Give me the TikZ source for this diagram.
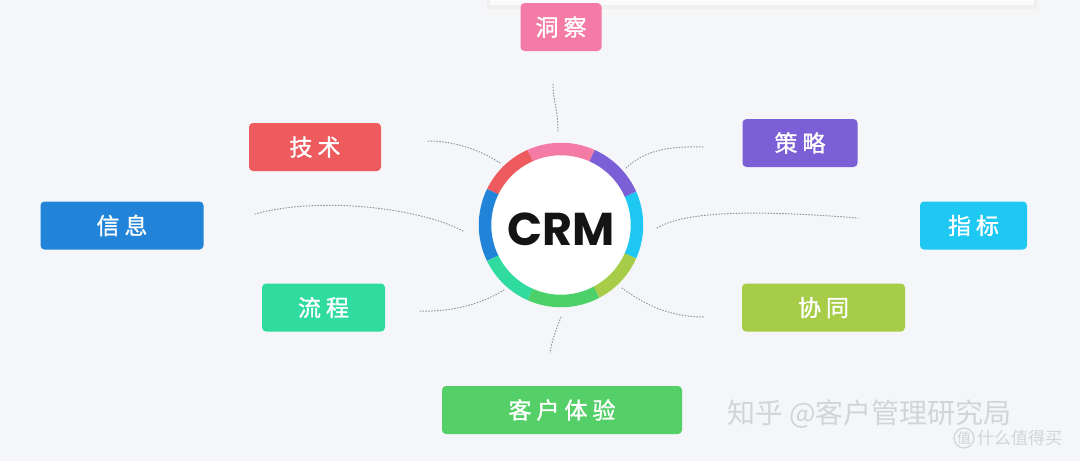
\documentclass[tikz,border=0pt]{standalone}
\usepackage{fontspec}
\newfontfamily\cjk{Noto Sans CJK SC}[FakeBold=1.2]
\newfontfamily\cjkw{Noto Sans CJK SC}
\newfontfamily\crmfont{Poppins}[UprightFont=* Bold]
\newcommand\ksp{\hspace{5pt}}
\definecolor{bgc}{HTML}{F4F6F9}
\definecolor{cpink}{HTML}{F47BA5}
\definecolor{cred}{HTML}{EE5B5E}
\definecolor{cpurple}{HTML}{7B5FD6}
\definecolor{cblue}{HTML}{2184D8}
\definecolor{ccyan}{HTML}{1EC8F2}
\definecolor{cteal}{HTML}{2FDB9E}
\definecolor{cyg}{HTML}{A6CC48}
\definecolor{cgreen}{HTML}{55CF67}
\definecolor{cgreen2}{HTML}{4CD06A}
\definecolor{dotc}{HTML}{8F949C}
\definecolor{wmc}{HTML}{D2D4D8}
\begin{document}
\begin{tikzpicture}[x=1pt,y=-1pt,
  tag/.style={rounded corners=4pt, text=white, font=\cjk\fontsize{23}{26}\selectfont, inner sep=0pt, minimum height=48pt},
  link/.style={draw=dotc, line width=1pt, dash pattern=on 0.9pt off 2pt, line cap=round},
  wm/.style={font=\cjkw\fontsize{28}{30}\selectfont, anchor=west, inner sep=0pt, text=wmc}]
\useasboundingbox (0,0) rectangle (1080,461);
\fill[bgc] (0,0) rectangle (1080,461);
% top card
\fill[gray!7] (484,-10) rectangle (1040,13);
\fill[gray!12] (487,-10) rectangle (1037,9);
\fill[white!60!bgc] (490,-10) rectangle (1034,5);

% boxes
\node[tag, fill=cpink, minimum width=81pt] (dc) at (561,27) {洞\ksp 察};
\node[tag, fill=cred, minimum width=132pt] (js) at (315,147) {技\ksp 术};
\node[tag, fill=cpurple, minimum width=115pt] (cl) at (800,143) {策\ksp 略};
\node[tag, fill=cblue, minimum width=163pt] (xx) at (122,225.5) {信\ksp 息};
\node[tag, fill=ccyan, minimum width=107pt] (zb) at (973.5,225.5) {指\ksp 标};
\node[tag, fill=cteal, minimum width=123pt] (lc) at (323.5,307.5) {流\ksp 程};
\node[tag, fill=cyg, minimum width=163pt] (xt) at (823.5,307.5) {协\ksp 同};
\node[tag, fill=cgreen, minimum width=240pt] (ty) at (562,410) {客\ksp 户\ksp 体\ksp 验};

% center
\node[circle, fill=white, minimum size=142pt, inner sep=0pt] (crm) at (561,225) {};
\begin{scope}[shift={(crm.center)}, yscale=-1, line width=12.5pt]
  \draw[ccyan]   (-24:76) arc[start angle=-24, end angle=24, radius=76];
  \draw[cpurple] (24:76) arc[start angle=24, end angle=66, radius=76];
  \draw[cpink]   (66:76) arc[start angle=66, end angle=114, radius=76];
  \draw[cred]    (114:76) arc[start angle=114, end angle=154, radius=76];
  \draw[cblue]   (154:76) arc[start angle=154, end angle=206, radius=76];
  \draw[cteal]   (206:76) arc[start angle=206, end angle=246, radius=76];
  \draw[cgreen2] (246:76) arc[start angle=246, end angle=298, radius=76];
  \draw[cyg]     (298:76) arc[start angle=298, end angle=336, radius=76];
\end{scope}
\node[font=\crmfont\fontsize{46}{48}\selectfont, text=black!92] (crmt) at (561,229) {CRM};

% connector ends
\coordinate (a1) at (558,131); \coordinate (b1) at (553,84);
\coordinate (a2) at (500,163); \coordinate (b2) at (428,141);
\coordinate (a3) at (463,231); \coordinate (b3) at (255,214);
\coordinate (a4) at (504,290); \coordinate (b4) at (420,311);
\coordinate (a5) at (626,168); \coordinate (b5) at (703,147);
\coordinate (a6) at (657,228); \coordinate (b6) at (858,218);
\coordinate (a7) at (622,288); \coordinate (b7) at (704,317);
\coordinate (a8) at (561,317); \coordinate (b8) at (550,353);

\draw[link] (a1) .. controls (558,110) and (553,100) .. (b1);
\draw[link] (a2) .. controls (480,150) and (455,141) .. (b2);
\draw[link] (a3) .. controls (420,208) and (320,196) .. (b3);
\draw[link] (a4) .. controls (480,305) and (450,312) .. (b4);
\draw[link] (a5) .. controls (645,150) and (670,146) .. (b5);
\draw[link] (a6) .. controls (690,208) and (780,212) .. (b6);
\draw[link] (a7) .. controls (645,305) and (670,317) .. (b7);
\draw[link] (a8) .. controls (556,330) and (552,340) .. (b8);

% watermarks
\node[wm] (w1) at (727,414) {知乎 @客户管理研究局};
\node[circle, draw=wmc, line width=1.2pt, minimum size=20pt, inner sep=0pt, font=\cjkw\fontsize{14}{14}\selectfont, text=wmc] (w2c) at (964,438) {值};
\node[font=\cjkw\fontsize{17}{18}\selectfont, text=wmc, anchor=west, inner sep=0pt] (w2) at (977,438) {什么值得买};
\end{tikzpicture}
\end{document}
